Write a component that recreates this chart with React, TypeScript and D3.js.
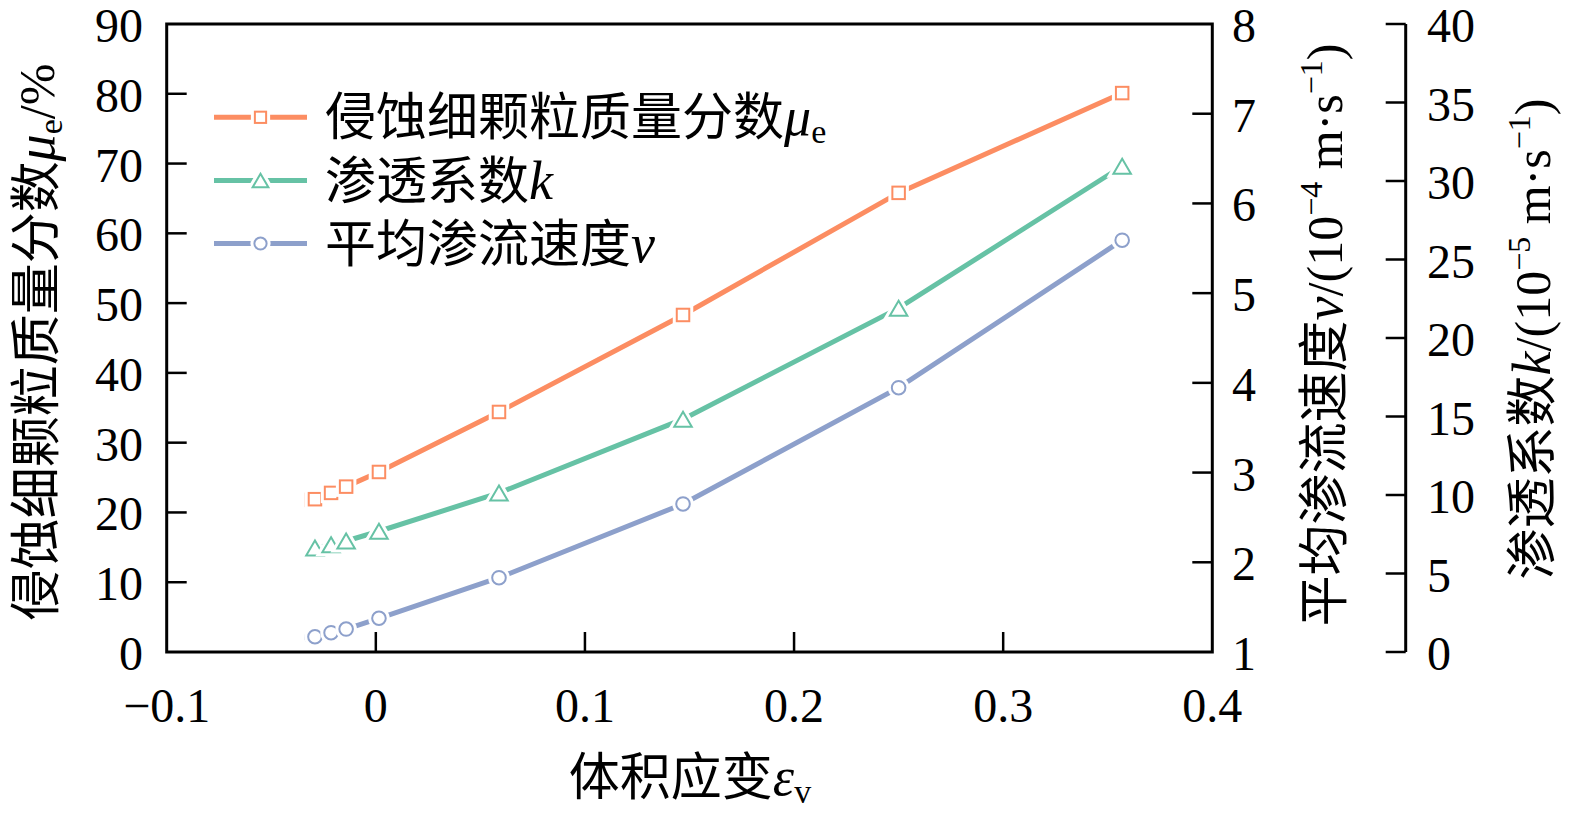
import * as d3 from "d3";

const strain = [-0.0305, -0.0291, -0.0214, -0.0142, 0.0015, 0.0589, 0.1469, 0.25, 0.3569];
const massFraction = [21.8, 21.9, 22.8, 23.7, 25.8, 34.4, 48.3, 65.8, 80.1];
const permeability = [6.54, 6.62, 6.83, 7.07, 7.69, 10.13, 14.83, 21.9, 30.94];
const velocity = [1.164, 1.17, 1.215, 1.256, 1.376, 1.828, 2.65, 3.946, 5.59];

const xTicks = [-0.1, 0, 0.1, 0.2, 0.3, 0.4];
const leftTicks = d3.range(0, 91, 10);
const vTicks = d3.range(1, 9, 1);
const kTicks = d3.range(0, 41, 5);

const W = 1575;
const H = 825;
const L = 166.7;
const R = 1212.3;
const T = 24;
const B = 652;
const K_AXIS = 1405.7;

const FONT = "'Liberation Serif', 'Times New Roman', 'Noto Sans CJK SC', serif";
const CJK = "'Noto Sans CJK SC', 'Liberation Serif', serif";

const ORANGE = "#FC8D62";
const GREEN = "#66C2A5";
const BLUE = "#8DA0CB";

const NUM = 48;
const HAN = 51;

const x = d3.scaleLinear().domain([-0.1, 0.4]).range([L, R]);
const yL = d3.scaleLinear().domain([0, 90]).range([B, T]);
const yV = d3.scaleLinear().domain([1, 8]).range([B, T]);
const yK = d3.scaleLinear().domain([0, 40]).range([B, T]);

type Shape = "square" | "triangle" | "circle";

const Marker = ({ shape, cx, cy, color, halo, size = 1 }: { shape: Shape; cx: number; cy: number; color: string; halo?: boolean; size?: number }) => {
  const fill = "white";
  const stroke = halo ? "white" : color;
  const sw = halo ? 8 : 2;
  if (shape === "square") {
    const s = 12.5 * size;
    return <rect x={cx - s / 2} y={cy - s / 2} width={s} height={s} fill={fill} stroke={stroke} strokeWidth={sw} />;
  }
  if (shape === "circle") {
    return <circle cx={cx} cy={cy} r={6.8 * size} fill={fill} stroke={stroke} strokeWidth={sw} />;
  }
  const w = 17.5 * size;
  const h = 15 * size;
  const pts = `${cx - w / 2},${cy + h / 2} ${cx + w / 2},${cy + h / 2} ${cx},${cy - h / 2}`;
  return <polygon points={pts} fill={fill} stroke={stroke} strokeWidth={sw} strokeLinejoin="miter" />;
};

const series = [
  { values: massFraction, y: yL, color: ORANGE, shape: "square" as Shape },
  { values: permeability, y: yK, color: GREEN, shape: "triangle" as Shape },
  { values: velocity, y: yV, color: BLUE, shape: "circle" as Shape },
];

const legendRows = [
  { color: ORANGE, shape: "square" as Shape, y: 117.3, label: "侵蚀细颗粒质量分数", sym: "μ", sub: "e" },
  { color: GREEN, shape: "triangle" as Shape, y: 180.5, label: "渗透系数", sym: "k", sub: "" },
  { color: BLUE, shape: "circle" as Shape, y: 243.5, label: "平均渗流速度", sym: "v", sub: "" },
];

export default function App() {
  return (
    <svg width={W} height={H} style={{ position: "absolute", left: 0, top: 0, background: "white" }}>
      {/* frame */}
      <rect x={L} y={T} width={R - L} height={B - T} fill="none" stroke="black" strokeWidth={3} />
      <line x1={K_AXIS} x2={K_AXIS} y1={T} y2={B} stroke="black" strokeWidth={3} />

      {/* x axis */}
      {xTicks.map((t) => (
        <g key={`x${t}`}>
          {t > -0.1 && t < 0.4 && <line x1={x(t)} x2={x(t)} y1={B} y2={B - 20} stroke="black" strokeWidth={2.5} />}
          <text x={x(t)} y={722} fontSize={NUM} fontFamily={FONT} textAnchor="middle">
            {t < 0 ? `−${Math.abs(t)}` : `${t}`}
          </text>
        </g>
      ))}

      {/* left axis */}
      {leftTicks.map((t) => (
        <g key={`l${t}`}>
          {t > 0 && t < 90 && <line x1={L} x2={L + 20} y1={yL(t)} y2={yL(t)} stroke="black" strokeWidth={2.5} />}
          <text x={143} y={yL(t) + 18} fontSize={NUM} fontFamily={FONT} textAnchor="end">
            {t}
          </text>
        </g>
      ))}

      {/* right axis v */}
      {vTicks.map((t) => (
        <g key={`v${t}`}>
          {t > 1 && t < 8 && <line x1={R} x2={R - 20} y1={yV(t)} y2={yV(t)} stroke="black" strokeWidth={2.5} />}
          <text x={1232} y={yV(t) + 18} fontSize={NUM} fontFamily={FONT} textAnchor="start">
            {t}
          </text>
        </g>
      ))}

      {/* right axis k */}
      {kTicks.map((t) => (
        <g key={`k${t}`}>
          <line x1={K_AXIS} x2={K_AXIS - 20} y1={yK(t)} y2={yK(t)} stroke="black" strokeWidth={2.5} />
          <text x={1427} y={yK(t) + 18} fontSize={NUM} fontFamily={FONT} textAnchor="start">
            {t}
          </text>
        </g>
      ))}

      {/* series */}
      {series.map((s, si) => {
        const line = d3
          .line<number>()
          .x((_, i) => x(strain[i]))
          .y((d) => s.y(d));
        return (
          <g key={si}>
            <path d={line(s.values) ?? ""} fill="none" stroke={s.color} strokeWidth={5} />
            {s.values.map((v, i) => (
              <g key={i}>
                <Marker shape={s.shape} cx={x(strain[i])} cy={s.y(v)} color={s.color} halo />
                <Marker shape={s.shape} cx={x(strain[i])} cy={s.y(v)} color={s.color} />
              </g>
            ))}
          </g>
        );
      })}

      {/* legend */}
      {legendRows.map((r) => (
        <g key={r.label}>
          <line x1={214} x2={307} y1={r.y} y2={r.y} stroke={r.color} strokeWidth={5} />
          <Marker shape={r.shape} cx={260.5} cy={r.y} color={r.color} halo size={0.9} />
          <Marker shape={r.shape} cx={260.5} cy={r.y} color={r.color} size={0.9} />
          <text x={325} y={r.y + 18} fontSize={HAN} fontFamily={CJK}>
            {r.label}
            <tspan fontFamily={FONT} fontStyle="italic" fontSize={54}>
              {r.sym}
            </tspan>
            {r.sub && (
              <tspan fontFamily={FONT} fontSize={34} dy={8}>
                {r.sub}
              </tspan>
            )}
          </text>
        </g>
      ))}

      {/* axis titles */}
      <text x={690} y={795} fontSize={HAN} fontFamily={CJK} textAnchor="middle">
        体积应变
        <tspan fontFamily={FONT} fontStyle="italic" fontSize={54}>ε</tspan>
        <tspan fontFamily={FONT} fontSize={34} dy={8}>v</tspan>
      </text>

      <text transform="translate(54,342) rotate(-90)" fontSize={HAN} fontFamily={CJK} textAnchor="middle">
        侵蚀细颗粒质量分数
        <tspan fontFamily={FONT} fontStyle="italic" fontSize={54}>μ</tspan>
        <tspan fontFamily={FONT} fontSize={34} dy={8}>e</tspan>
        <tspan fontFamily={FONT} fontSize={50} dy={-8}>/%</tspan>
      </text>

      <text transform="translate(1342,335) rotate(-90)" fontSize={HAN} fontFamily={CJK} textAnchor="middle">
        平均渗流速度
        <tspan fontFamily={FONT} fontStyle="italic" fontSize={54}>v</tspan>
        <tspan fontFamily={FONT} fontSize={50}>/(10</tspan>
        <tspan fontFamily={FONT} fontSize={32} dy={-20}>−4</tspan>
        <tspan fontFamily={FONT} fontSize={50} dy={20}> m·s</tspan>
        <tspan fontFamily={FONT} fontSize={32} dy={-20}>−1</tspan>
        <tspan fontFamily={FONT} fontSize={50} dy={20}>)</tspan>
      </text>

      <text transform="translate(1550,339) rotate(-90)" fontSize={HAN} fontFamily={CJK} textAnchor="middle">
        渗透系数
        <tspan fontFamily={FONT} fontStyle="italic" fontSize={54}>k</tspan>
        <tspan fontFamily={FONT} fontSize={50}>/(10</tspan>
        <tspan fontFamily={FONT} fontSize={32} dy={-20}>−5</tspan>
        <tspan fontFamily={FONT} fontSize={50} dy={20}> m·s</tspan>
        <tspan fontFamily={FONT} fontSize={32} dy={-20}>−1</tspan>
        <tspan fontFamily={FONT} fontSize={50} dy={20}>)</tspan>
      </text>
    </svg>
  );
}
